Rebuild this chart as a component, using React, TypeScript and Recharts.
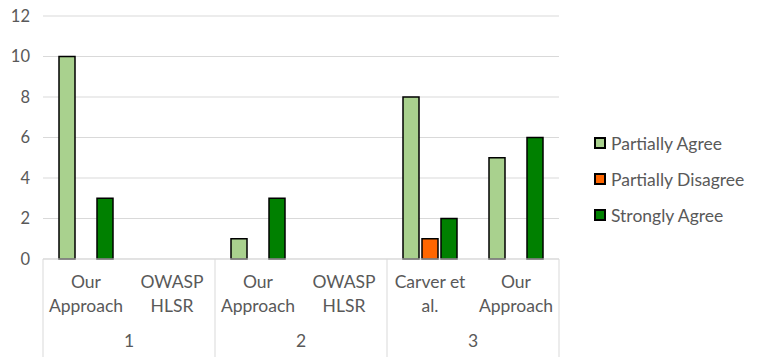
import { BarChart, Bar, XAxis, YAxis, CartesianGrid } from 'recharts'

const groups = ['1', '1', '2', '2', '3', '3']
const categories = ['Our Approach', 'OWASP HLSR', 'Our Approach', 'OWASP HLSR', 'Carver et al.', 'Our Approach']
const partiallyAgree = [10, 0, 1, 0, 8, 5]
const partiallyDisagree = [0, 0, 0, 0, 1, 0]
const stronglyAgree = [3, 0, 3, 0, 2, 6]
const yTicks = [0, 2, 4, 6, 8, 10, 12]

const SERIES = [
  { key: 'pa', name: 'Partially Agree', color: '#a9d18e' },
  { key: 'pd', name: 'Partially Disagree', color: '#ff6600' },
  { key: 'sa', name: 'Strongly Agree', color: '#008000' }
]

const data = categories.map((c, i) => ({
  name: c,
  group: groups[i],
  pa: partiallyAgree[i],
  pd: partiallyDisagree[i],
  sa: stronglyAgree[i]
}))

const FONT = 'Lato, "Open Sans", sans-serif'
const TEXT = '#595959'
const LINE = '#d9d9d9'
const PLOT_W = 516
const BAND = PLOT_W / categories.length

function CategoryTick(props: any) {
  const { x, y, payload, index } = props
  const label: string = categories[index] ?? payload.value
  const cut = label.lastIndexOf(' ')
  const lines = cut > 0 ? [label.slice(0, cut), label.slice(cut + 1)] : [label]
  const first = index === 0 || groups[index - 1] !== groups[index]
  const last = index === categories.length - 1
  return (
    <g>
      {lines.map((l, i) => (
        <text key={i} x={x} y={y + 29 + i * 24} textAnchor="middle" fill={TEXT} fontSize={17.5} fontFamily={FONT}>
          {l}
        </text>
      ))}
      {first && (
        <>
          <line x1={x - BAND / 2} x2={x - BAND / 2} y1={y} y2={y + 98} stroke={LINE} strokeWidth={1} />
          <text x={x + BAND / 2} y={y + 88} textAnchor="middle" fill={TEXT} fontSize={17.5} fontFamily={FONT}>
            {groups[index]}
          </text>
        </>
      )}
      {last && <line x1={x + BAND / 2} x2={x + BAND / 2} y1={y} y2={y + 98} stroke={LINE} strokeWidth={1} />}
    </g>
  )
}

function LegendBox() {
  return (
    <div style={{ position: 'absolute', left: 594, top: 125, fontFamily: FONT, fontSize: 17.5, color: TEXT }}>
      {SERIES.map(s => (
        <div key={s.key} style={{ display: 'flex', alignItems: 'center', height: 36, whiteSpace: 'nowrap' }}>
          <span
            style={{
              display: 'inline-block',
              width: 8,
              height: 8,
              background: s.color,
              border: '2px solid #000',
              marginRight: 5
            }}
          />
          {s.name}
        </div>
      ))}
    </div>
  )
}

export default function App() {
  return (
    <div style={{ position: 'absolute', left: 0, top: 0, width: 758, height: 364, background: '#fff' }}>
      <BarChart
        width={758}
        height={364}
        data={data}
        margin={{ top: 16, right: 199, left: 0, bottom: 0 }}
        barCategoryGap={16}
        barGap={3}
      >
        <CartesianGrid vertical={false} stroke={LINE} />
        <XAxis
          dataKey="name"
          height={105}
          interval={0}
          tickLine={false}
          tickSize={0}
          tickMargin={0}
          axisLine={{ stroke: LINE }}
          tick={<CategoryTick />}
        />
        <YAxis
          width={43}
          domain={[0, 12]}
          ticks={yTicks}
          interval={0}
          axisLine={false}
          tickLine={false}
          tickSize={0}
          tickMargin={13}
          tick={{ fill: TEXT, fontSize: 16.5, fontFamily: FONT }}
        />
        {SERIES.map(s => (
          <Bar
            key={s.key}
            dataKey={s.key}
            name={s.name}
            fill={s.color}
            stroke="#000"
            strokeWidth={1.5}
            isAnimationActive={false}
          />
        ))}
      </BarChart>
      <LegendBox />
    </div>
  )
}
